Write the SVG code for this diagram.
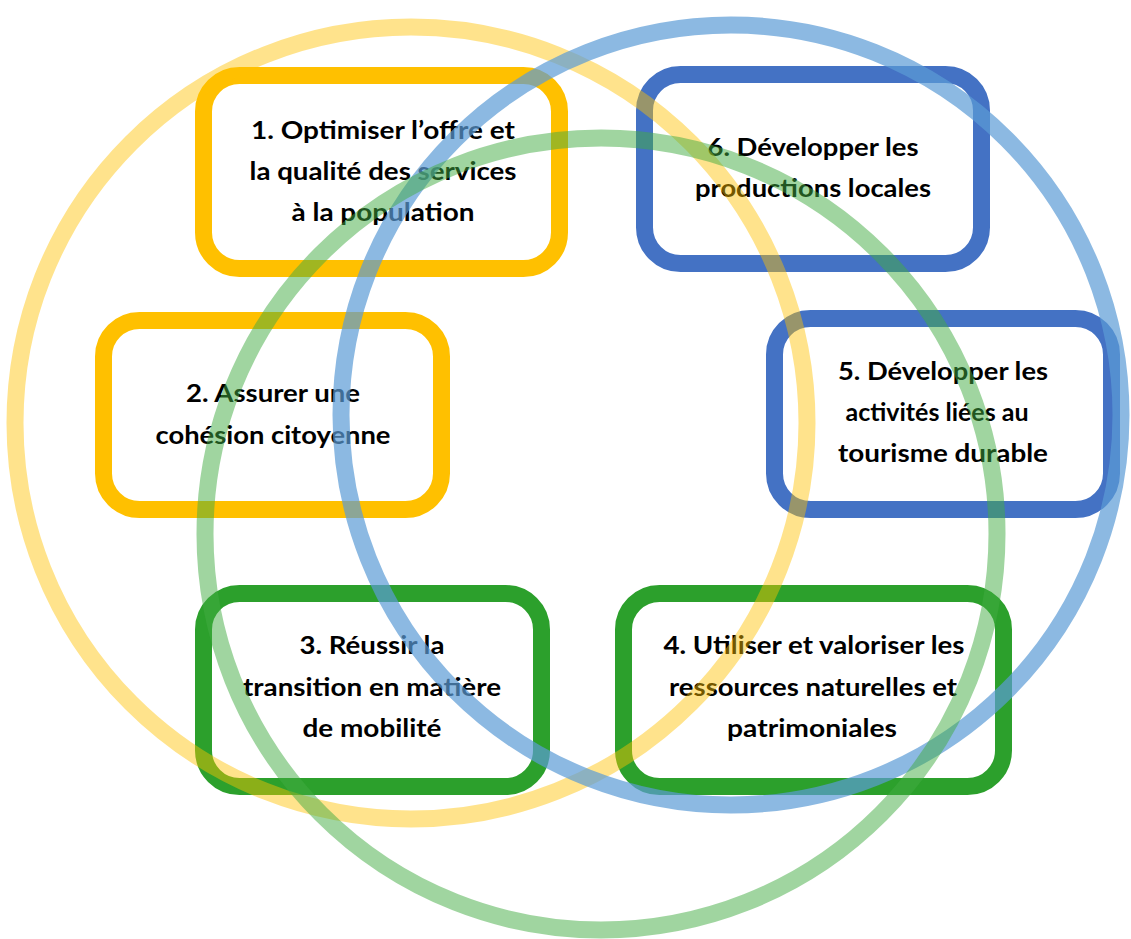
<svg xmlns="http://www.w3.org/2000/svg" width="1131" height="939" viewBox="0 0 1131 939">
<style>
.box{fill:#fff;stroke-width:17}
.y{stroke:#FFC000}.b{stroke:#4472C4}.g{stroke:#2CA02C}
.t{font-family:Lato,"Open Sans","Liberation Sans",sans-serif;font-weight:bold;font-size:24px;fill:#000;text-anchor:middle}
.ring{fill:none;stroke-width:17}
</style>
<rect width="1131" height="939" fill="#fff"/>
<g id="node1"><rect class="box y" x="203.5" y="75.5" width="356" height="193" rx="36"/>
<text class="t" x="383" y="139" textLength="264" lengthAdjust="spacingAndGlyphs">1. Optimiser l’offre et</text>
<text class="t" x="383" y="180" textLength="267" lengthAdjust="spacingAndGlyphs">la qualité des services</text>
<text class="t" x="383" y="221" textLength="183" lengthAdjust="spacingAndGlyphs">à la population</text></g>
<g id="node6"><rect class="box b" x="644.5" y="74.5" width="337" height="189" rx="36"/>
<text class="t" x="813" y="156" textLength="211" lengthAdjust="spacingAndGlyphs">6. Développer les</text>
<text class="t" x="813" y="197" textLength="236" lengthAdjust="spacingAndGlyphs">productions locales</text></g>
<g id="node2"><rect class="box y" x="103.5" y="320.5" width="338" height="189" rx="36"/>
<text class="t" x="273" y="402" textLength="174" lengthAdjust="spacingAndGlyphs">2. Assurer une</text>
<text class="t" x="273" y="444" textLength="235" lengthAdjust="spacingAndGlyphs">cohésion citoyenne</text></g>
<g id="node5"><rect class="box b" x="774.5" y="318.5" width="337" height="191" rx="36"/>
<text class="t" x="943" y="380" textLength="210" lengthAdjust="spacingAndGlyphs">5. Développer les</text>
<text class="t" x="937" y="421" textLength="183" lengthAdjust="spacingAndGlyphs">activités liées au</text>
<text class="t" x="943" y="462" textLength="210" lengthAdjust="spacingAndGlyphs">tourisme durable</text></g>
<g id="node3"><rect class="box g" x="203.5" y="593.5" width="338" height="193" rx="36"/>
<text class="t" x="372" y="654" textLength="145" lengthAdjust="spacingAndGlyphs">3. Réussir la</text>
<text class="t" x="372" y="696" textLength="258" lengthAdjust="spacingAndGlyphs">transition en matière</text>
<text class="t" x="372" y="737" textLength="139" lengthAdjust="spacingAndGlyphs">de mobilité</text></g>
<g id="node4"><rect class="box g" x="623.5" y="593.5" width="380" height="193" rx="36"/>
<text class="t" x="814" y="654" textLength="301" lengthAdjust="spacingAndGlyphs">4. Utiliser et valoriser les</text>
<text class="t" x="813" y="696" textLength="288" lengthAdjust="spacingAndGlyphs">ressources naturelles et</text>
<text class="t" x="812" y="737" textLength="170" lengthAdjust="spacingAndGlyphs">patrimoniales</text></g>
<g id="connectors">
<circle class="ring" cx="411" cy="423" r="396" stroke="#FFC000" stroke-opacity="0.45"/>
<circle class="ring" cx="731" cy="415" r="390" stroke="#5B9BD5" stroke-opacity="0.7"/>
<circle class="ring" cx="601" cy="534" r="396" stroke="#41AB41" stroke-opacity="0.5"/>
</g>
</svg>
